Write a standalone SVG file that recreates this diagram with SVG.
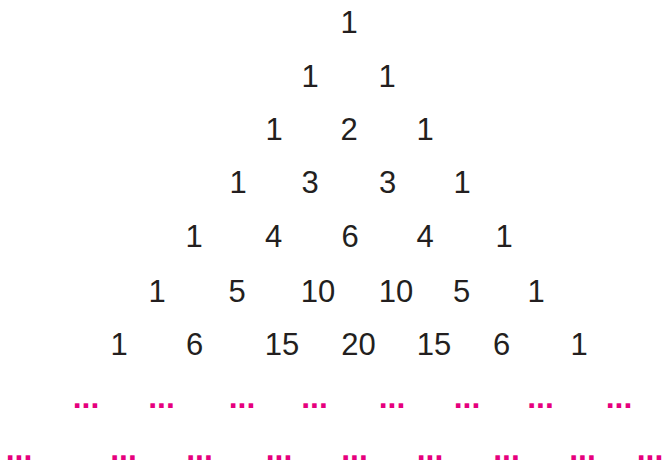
<svg xmlns="http://www.w3.org/2000/svg" width="662" height="466" viewBox="0 0 662 466">
<style>
.n{font-family:"Liberation Sans",Arial,sans-serif;font-size:31px;fill:#231f20;text-anchor:middle}
.d{font-family:"Liberation Sans",Arial,sans-serif;font-size:32px;font-weight:bold;fill:#e6007e;text-anchor:middle}
</style>
<rect width="662" height="466" fill="#fff"/>
<g id="row0"><text class="n" x="349" y="33">1</text></g>
<g id="row1"><text class="n" x="310" y="87">1</text><text class="n" x="387" y="87">1</text></g>
<g id="row2"><text class="n" x="274" y="139.5">1</text><text class="n" x="349" y="139.5">2</text><text class="n" x="425" y="139.5">1</text></g>
<g id="row3"><text class="n" x="238" y="193">1</text><text class="n" x="310" y="193">3</text><text class="n" x="387.5" y="193">3</text><text class="n" x="462" y="193">1</text></g>
<g id="row4"><text class="n" x="194" y="247">1</text><text class="n" x="273.5" y="247">4</text><text class="n" x="350" y="247">6</text><text class="n" x="425" y="247">4</text><text class="n" x="504" y="247">1</text></g>
<g id="row5"><text class="n" x="157" y="302">1</text><text class="n" x="237" y="302">5</text><text class="n" x="318" y="302">10</text><text class="n" x="396" y="302">10</text><text class="n" x="461.5" y="302">5</text><text class="n" x="536" y="302">1</text></g>
<g id="row6"><text class="n" x="119" y="354.5">1</text><text class="n" x="194.5" y="354.5">6</text><text class="n" x="282" y="354.5">15</text><text class="n" x="358.5" y="354.5">20</text><text class="n" x="434" y="354.5">15</text><text class="n" x="501.5" y="354.5">6</text><text class="n" x="579" y="354.5">1</text></g>
<g id="row7"><text class="d" x="86" y="408">...</text><text class="d" x="161.5" y="408">...</text><text class="d" x="242" y="408">...</text><text class="d" x="314.5" y="408">...</text><text class="d" x="392" y="408">...</text><text class="d" x="467" y="408">...</text><text class="d" x="540.5" y="408">...</text><text class="d" x="619" y="408">...</text></g>
<g id="row8"><text class="d" x="19" y="459.5">...</text><text class="d" x="123.5" y="459.5">...</text><text class="d" x="199.5" y="459.5">...</text><text class="d" x="279" y="459.5">...</text><text class="d" x="354.5" y="459.5">...</text><text class="d" x="430" y="459.5">...</text><text class="d" x="506.5" y="459.5">...</text><text class="d" x="582.5" y="459.5">...</text><text class="d" x="650" y="459.5">...</text></g>
</svg>
